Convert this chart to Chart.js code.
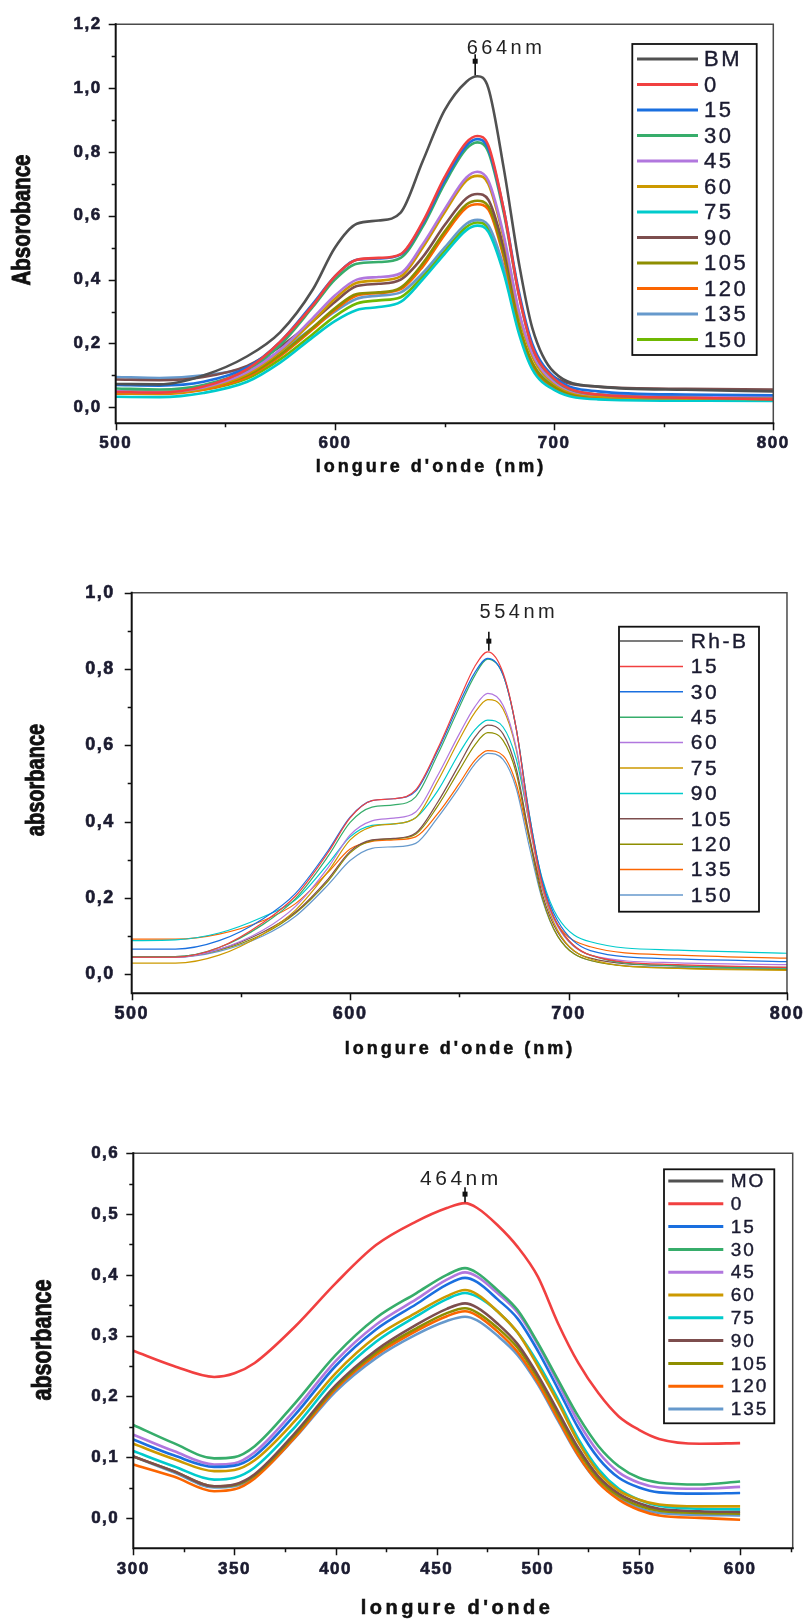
<!DOCTYPE html>
<html>
<head>
<meta charset="utf-8">
<script src="https://cdn.jsdelivr.net/npm/chart.js@4.4.0/dist/chart.umd.min.js"></script>
<style>
  body { margin: 0; background: #fff; width: 812px; height: 1620px; position: relative; overflow: hidden; }
  canvas { position: absolute; left: 0; }
</style>
</head>
<body>
<canvas id="c1" width="812" height="490" style="top:0px"></canvas>
<canvas id="c2" width="812" height="520" style="top:545px"></canvas>
<canvas id="c3" width="812" height="510" style="top:1110px"></canvas>
<script>
// ---------- Chart 1 : BM (absorbance vs longueur d'onde) ----------
const wl1 = [500, 520, 540, 560, 575, 590, 600, 610, 620, 630, 640, 650, 660, 665, 670, 677, 684, 690, 700, 720, 760, 800];
const names1 = ['BM', '0', '15', '30', '45', '60', '75', '90', '105', '120', '135', '150'];
const bm_BM  = [0.073, 0.072, 0.10, 0.16, 0.235, 0.37, 0.50, 0.575, 0.585, 0.61, 0.77, 0.93, 1.02, 1.037, 1.00, 0.75, 0.45, 0.25, 0.11, 0.065, 0.055, 0.05];
const bm_0   = [0.048, 0.046, 0.065, 0.12, 0.205, 0.32, 0.41, 0.462, 0.468, 0.48, 0.58, 0.72, 0.83, 0.85, 0.82, 0.62, 0.35, 0.19, 0.09, 0.04, 0.03, 0.025];
const bm_15  = [0.07, 0.068, 0.08, 0.125, 0.205, 0.325, 0.41, 0.462, 0.466, 0.478, 0.575, 0.71, 0.82, 0.84, 0.81, 0.62, 0.36, 0.20, 0.095, 0.05, 0.04, 0.038];
const bm_30  = [0.059, 0.056, 0.07, 0.118, 0.195, 0.315, 0.40, 0.45, 0.455, 0.468, 0.565, 0.70, 0.81, 0.83, 0.80, 0.61, 0.35, 0.19, 0.088, 0.04, 0.03, 0.025];
const bm_45  = [0.05, 0.048, 0.062, 0.11, 0.18, 0.28, 0.35, 0.40, 0.408, 0.42, 0.51, 0.62, 0.72, 0.738, 0.71, 0.54, 0.30, 0.17, 0.08, 0.04, 0.036, 0.035];
const bm_60  = [0.045, 0.044, 0.058, 0.105, 0.175, 0.27, 0.34, 0.39, 0.397, 0.41, 0.50, 0.61, 0.71, 0.725, 0.70, 0.53, 0.29, 0.16, 0.075, 0.035, 0.028, 0.025];
const bm_75  = [0.033, 0.032, 0.045, 0.08, 0.14, 0.22, 0.27, 0.305, 0.314, 0.33, 0.40, 0.48, 0.555, 0.569, 0.55, 0.42, 0.23, 0.12, 0.055, 0.025, 0.021, 0.02];
const bm_90  = [0.087, 0.085, 0.095, 0.13, 0.19, 0.27, 0.33, 0.38, 0.387, 0.40, 0.47, 0.57, 0.655, 0.668, 0.65, 0.50, 0.29, 0.17, 0.095, 0.065, 0.058, 0.056];
const bm_105 = [0.05, 0.048, 0.06, 0.10, 0.165, 0.25, 0.31, 0.355, 0.36, 0.375, 0.45, 0.55, 0.635, 0.647, 0.63, 0.48, 0.26, 0.14, 0.065, 0.035, 0.03, 0.03];
const bm_120 = [0.043, 0.042, 0.055, 0.095, 0.16, 0.245, 0.305, 0.35, 0.358, 0.37, 0.44, 0.54, 0.625, 0.636, 0.62, 0.47, 0.25, 0.135, 0.06, 0.03, 0.024, 0.021];
const bm_135 = [0.095, 0.092, 0.10, 0.125, 0.175, 0.25, 0.30, 0.34, 0.35, 0.36, 0.42, 0.50, 0.575, 0.587, 0.57, 0.44, 0.25, 0.14, 0.07, 0.04, 0.032, 0.03];
const bm_150 = [0.05, 0.048, 0.055, 0.09, 0.15, 0.23, 0.285, 0.325, 0.335, 0.345, 0.41, 0.49, 0.565, 0.579, 0.56, 0.43, 0.24, 0.13, 0.06, 0.03, 0.027, 0.025];
const yTicks1 = [0, 0.2, 0.4, 0.6, 0.8, 1.0, 1.2];
const xTicks1 = [500, 600, 700, 800];

// ---------- Chart 2 : Rh-B ----------
const wl2 = [500, 520, 540, 560, 575, 590, 600, 610, 620, 630, 640, 650, 657, 663, 670, 676, 682, 688, 695, 710, 750, 800];
const names2 = ['Rh-B', '15', '30', '45', '60', '75', '90', '105', '120', '135', '150'];
const rh_RhB = []; // courbe Rh-B non visible sur la figure
const rh_15  = [0.045, 0.045, 0.07, 0.135, 0.205, 0.32, 0.41, 0.455, 0.46, 0.483, 0.59, 0.72, 0.806, 0.845, 0.79, 0.645, 0.41, 0.235, 0.13, 0.05, 0.025, 0.018];
const rh_30  = [0.066, 0.066, 0.088, 0.145, 0.212, 0.325, 0.412, 0.455, 0.46, 0.48, 0.585, 0.71, 0.79, 0.828, 0.785, 0.645, 0.42, 0.245, 0.14, 0.062, 0.04, 0.033];
const rh_45  = [0.046, 0.046, 0.07, 0.13, 0.198, 0.31, 0.398, 0.438, 0.444, 0.465, 0.575, 0.70, 0.782, 0.826, 0.785, 0.645, 0.42, 0.24, 0.13, 0.05, 0.022, 0.016];
const rh_60  = [0.045, 0.044, 0.065, 0.115, 0.178, 0.28, 0.365, 0.402, 0.409, 0.425, 0.52, 0.63, 0.70, 0.736, 0.705, 0.595, 0.40, 0.23, 0.125, 0.05, 0.03, 0.025];
const rh_75  = [0.029, 0.029, 0.05, 0.105, 0.168, 0.27, 0.352, 0.387, 0.394, 0.41, 0.505, 0.615, 0.685, 0.72, 0.695, 0.59, 0.395, 0.225, 0.115, 0.04, 0.015, 0.01];
const rh_90  = [0.088, 0.09, 0.108, 0.15, 0.195, 0.29, 0.36, 0.39, 0.394, 0.41, 0.48, 0.58, 0.64, 0.666, 0.648, 0.565, 0.40, 0.25, 0.15, 0.085, 0.063, 0.055];
const rh_105 = [0.046, 0.046, 0.065, 0.11, 0.163, 0.25, 0.322, 0.352, 0.356, 0.37, 0.45, 0.55, 0.62, 0.653, 0.63, 0.54, 0.365, 0.21, 0.11, 0.042, 0.022, 0.018];
const rh_120 = [0.046, 0.045, 0.063, 0.105, 0.16, 0.245, 0.318, 0.35, 0.355, 0.367, 0.44, 0.535, 0.60, 0.633, 0.613, 0.528, 0.355, 0.20, 0.10, 0.036, 0.016, 0.012];
const rh_135 = [0.092, 0.092, 0.105, 0.14, 0.185, 0.268, 0.328, 0.348, 0.352, 0.36, 0.42, 0.50, 0.56, 0.586, 0.573, 0.50, 0.355, 0.225, 0.13, 0.072, 0.05, 0.042];
const rh_150 = [0.045, 0.045, 0.06, 0.10, 0.152, 0.235, 0.298, 0.33, 0.334, 0.343, 0.41, 0.49, 0.55, 0.579, 0.563, 0.488, 0.335, 0.195, 0.10, 0.036, 0.018, 0.014];
const yTicks2 = [0, 0.2, 0.4, 0.6, 0.8, 1.0];
const xTicks2 = [500, 600, 700, 800];

// ---------- Chart 3 : MO ----------
const wl3 = [300, 320, 340, 350, 360, 380, 400, 420, 440, 455, 464, 470, 480, 490, 500, 510, 520, 530, 540, 550, 560, 580, 600];
const names3 = ['MO', '0', '15', '30', '45', '60', '75', '90', '105', '120', '135'];
const mo_MO  = []; // courbe MO non visible sur la figure
const mo_0   = [0.275, 0.25, 0.232, 0.238, 0.255, 0.315, 0.386, 0.449, 0.488, 0.51, 0.518, 0.51, 0.482, 0.446, 0.397, 0.32, 0.255, 0.205, 0.167, 0.145, 0.13, 0.122, 0.123];
const mo_15  = [0.129, 0.103, 0.084, 0.086, 0.102, 0.17, 0.25, 0.31, 0.352, 0.384, 0.395, 0.388, 0.36, 0.328, 0.275, 0.212, 0.148, 0.098, 0.066, 0.05, 0.042, 0.04, 0.041];
const mo_30  = [0.153, 0.123, 0.098, 0.10, 0.118, 0.189, 0.268, 0.329, 0.37, 0.40, 0.411, 0.403, 0.375, 0.342, 0.288, 0.227, 0.167, 0.118, 0.085, 0.066, 0.058, 0.055, 0.06];
const mo_45  = [0.137, 0.11, 0.088, 0.09, 0.108, 0.178, 0.258, 0.318, 0.36, 0.392, 0.404, 0.397, 0.37, 0.338, 0.285, 0.222, 0.158, 0.108, 0.075, 0.058, 0.05, 0.048, 0.051];
const mo_60  = [0.122, 0.097, 0.077, 0.079, 0.095, 0.16, 0.238, 0.298, 0.338, 0.365, 0.375, 0.368, 0.34, 0.305, 0.25, 0.19, 0.125, 0.075, 0.045, 0.03, 0.022, 0.019, 0.019];
const mo_75  = [0.11, 0.085, 0.063, 0.066, 0.083, 0.15, 0.23, 0.29, 0.332, 0.36, 0.37, 0.364, 0.34, 0.305, 0.255, 0.195, 0.13, 0.08, 0.048, 0.03, 0.02, 0.015, 0.014];
const mo_90  = [0.101, 0.077, 0.052, 0.055, 0.072, 0.14, 0.218, 0.276, 0.318, 0.344, 0.353, 0.346, 0.32, 0.286, 0.235, 0.175, 0.115, 0.068, 0.04, 0.024, 0.015, 0.011, 0.01];
const mo_105 = [0.101, 0.077, 0.052, 0.054, 0.07, 0.137, 0.215, 0.272, 0.312, 0.337, 0.345, 0.338, 0.313, 0.28, 0.23, 0.17, 0.11, 0.064, 0.036, 0.02, 0.012, 0.008, 0.007];
const mo_120 = [0.088, 0.068, 0.044, 0.047, 0.065, 0.133, 0.212, 0.268, 0.308, 0.332, 0.34, 0.333, 0.307, 0.273, 0.223, 0.163, 0.103, 0.058, 0.03, 0.013, 0.004, 0.0, -0.003];
const mo_135 = [0.101, 0.075, 0.05, 0.052, 0.067, 0.132, 0.208, 0.263, 0.302, 0.324, 0.331, 0.325, 0.30, 0.268, 0.22, 0.16, 0.102, 0.058, 0.032, 0.016, 0.008, 0.005, 0.004];
const yTicks3 = [0, 0.1, 0.2, 0.3, 0.4, 0.5, 0.6];
const xTicks3 = [300, 350, 400, 450, 500, 550, 600];

// Origin default colour order
const seriesColors = ['#515151', '#F14040', '#1A6FDF', '#37AD6B', '#B177DE', '#CC9900',
                      '#00CBCC', '#7D4E4E', '#8E8E00', '#FB6501', '#6699CC', '#6FB802'];

const tickFamily = "'Liberation Sans', Arial, sans-serif";
const textColor = '#1b1b30';

function isMultiple(v, step) {
  const r = v / step;
  return Math.abs(r - Math.round(r)) < 1e-6;
}

// draws the Origin-like frame, minor ticks, legend box, peak marker and axis titles
function originPlugin(c) {
  return {
    id: 'origin',
    beforeDraw(chart) {
      chart.ctx.letterSpacing = c.tickSpacing;
    },
    afterDatasetsDraw(chart) {
      const ctx = chart.ctx;
      const a = chart.chartArea;
      const xs = chart.scales.x, ys = chart.scales.y;
      ctx.save();
      ctx.letterSpacing = '0px';

      // frame
      ctx.lineCap = 'square';
      ctx.strokeStyle = '#4a4a4a';
      ctx.lineWidth = 1.5;
      ctx.beginPath();
      ctx.moveTo(a.left, a.top); ctx.lineTo(a.right, a.top); ctx.lineTo(a.right, a.bottom);
      ctx.stroke();
      ctx.strokeStyle = '#111';
      ctx.lineWidth = 2;
      ctx.beginPath();
      ctx.moveTo(a.left, a.top); ctx.lineTo(a.left, a.bottom); ctx.lineTo(a.right, a.bottom);
      ctx.stroke();

      // tick marks (major + minor), outside
      ctx.lineCap = 'butt';
      ctx.lineWidth = 1.5;
      ctx.beginPath();
      for (let v = c.yTicks[0]; v <= c.yMax + 1e-9; v += c.yMinor) {
        const py = Math.round(ys.getPixelForValue(v)) + 0.5;
        const len = isMultiple(v, c.yMajor) ? 7 : 4;
        ctx.moveTo(a.left, py); ctx.lineTo(a.left - len, py);
      }
      for (let v = c.xMin; v <= c.xMax + 1e-9; v += c.xMinor) {
        const px = Math.round(xs.getPixelForValue(v)) + 0.5;
        const len = isMultiple(v, c.xMajor) ? 7 : 4;
        ctx.moveTo(px, a.bottom); ctx.lineTo(px, a.bottom + len);
      }
      ctx.stroke();

      // legend box
      const L = c.legend;
      ctx.fillStyle = '#fff';
      ctx.fillRect(L.x, L.y, L.w, L.h);
      ctx.strokeStyle = '#111';
      ctx.lineWidth = 1.8;
      ctx.strokeRect(L.x, L.y, L.w, L.h);
      ctx.font = L.font;
      ctx.letterSpacing = L.spacing;
      ctx.textBaseline = 'middle';
      ctx.textAlign = 'left';
      chart.data.datasets.forEach((d, i) => {
        const yy = L.first + i * L.row;
        ctx.strokeStyle = d.borderColor;
        ctx.lineWidth = L.lineW;
        ctx.beginPath();
        ctx.moveTo(L.lx0, yy); ctx.lineTo(L.lx1, yy);
        ctx.stroke();
        ctx.fillStyle = textColor;
        ctx.fillText(d.label, L.tx, yy + 1);
        ctx.strokeStyle = textColor;
        ctx.lineWidth = 0.4;
        ctx.strokeText(d.label, L.tx, yy + 1);
      });

      // peak marker
      const P = c.peak;
      let top = -Infinity;
      chart.data.datasets.forEach(d => d.data.forEach(p => { if (p.y > top) top = p.y; }));
      const px = xs.getPixelForValue(P.nm);
      const py = ys.getPixelForValue(top);
      ctx.strokeStyle = '#111';
      ctx.lineWidth = 1.6;
      ctx.beginPath();
      ctx.moveTo(px, py - 1); ctx.lineTo(px, py - P.len);
      ctx.stroke();
      ctx.fillStyle = '#111';
      ctx.fillRect(px - 2.5, py - P.sq - 2.5, 5, 5);
      ctx.font = P.font;
      ctx.letterSpacing = P.spacing;
      ctx.fillStyle = '#222';
      ctx.fillText(P.text, px + P.tx, py - P.ty);

      // axis titles (y title condensed like Arial Narrow, heavy)
      const T = c.titles;
      ctx.fillStyle = '#111';
      ctx.strokeStyle = '#111';
      ctx.lineWidth = 0.9;
      ctx.textAlign = 'center';
      ctx.font = T.yFont;
      ctx.letterSpacing = '0px';
      ctx.save();
      ctx.translate(T.yx, T.yy);
      ctx.rotate(-Math.PI / 2);
      ctx.scale(T.yCond, 1);
      ctx.fillText(T.y, 0, 0);
      ctx.strokeText(T.y, 0, 0);
      ctx.restore();
      ctx.font = T.xFont;
      ctx.letterSpacing = T.xSpacing;
      ctx.lineWidth = 0.5;
      ctx.fillText(T.x, T.xx, T.xy);
      ctx.strokeText(T.x, T.xx, T.xy);
      ctx.restore();
    }
  };
}

function makeChart(id, c) {
  const datasets = c.series.map((s, i) => ({
    label: c.names[i],
    data: s.map((y, j) => ({ x: c.wl[j], y: y })),
    borderColor: seriesColors[i],
    backgroundColor: seriesColors[i],
    borderWidth: c.lineWidth,
    pointRadius: 0,
    fill: false,
    cubicInterpolationMode: 'monotone'
  }));

  new Chart(document.getElementById(id), {
    type: 'line',
    data: { datasets: datasets },
    options: {
      responsive: false,
      animation: false,
      devicePixelRatio: 1,
      layout: { padding: { top: c.padTop, right: c.padRight, left: 0, bottom: 0 } },
      plugins: { legend: { display: false }, tooltip: { enabled: false } },
      scales: {
        x: {
          type: 'linear', min: c.xMin, max: c.xMax,
          afterBuildTicks: s => { s.ticks = c.xTicks.map(v => ({ value: v })); },
          afterFit: s => { s.height = c.xAxisH; },
          grid: { display: false, drawTicks: false },
          border: { display: false },
          ticks: {
            padding: c.xTickPad, color: textColor, autoSkip: false, maxRotation: 0,
            textStrokeColor: textColor, textStrokeWidth: 0.6,
            font: { family: tickFamily, weight: 'bold', size: c.tickSize },
            callback: v => String(v)
          }
        },
        y: {
          type: 'linear', min: c.yMin, max: c.yMax,
          afterBuildTicks: s => { s.ticks = c.yTicks.map(v => ({ value: v })); },
          afterFit: s => { s.width = c.yAxisW; },
          grid: { display: false, drawTicks: false },
          border: { display: false },
          ticks: {
            padding: c.yTickPad, color: textColor,
            textStrokeColor: textColor, textStrokeWidth: 0.6,
            font: { family: tickFamily, weight: 'bold', size: c.tickSize },
            callback: v => v.toFixed(1).replace('.', ',')
          }
        }
      }
    },
    plugins: [originPlugin(c)]
  });
}

// Chart 1
makeChart('c1', {
  wl: wl1, names: names1,
  series: [bm_BM, bm_0, bm_15, bm_30, bm_45, bm_60, bm_75, bm_90, bm_105, bm_120, bm_135, bm_150],
  lineWidth: 2.6,
  xMin: 500, xMax: 800, xMajor: 100, xMinor: 50, xTicks: xTicks1,
  yMin: -0.05, yMax: 1.2, yMajor: 0.2, yMinor: 0.1, yTicks: yTicks1,
  padTop: 22.7, padRight: 38.7, yAxisW: 115.7, xAxisH: 66.7,
  tickSize: 17, tickSpacing: '1.5px', xTickPad: 10, yTickPad: 14,
  legend: { x: 632.3, y: 44, w: 124.4, h: 311, first: 59, row: 25.5, lx0: 637, lx1: 698, tx: 704,
            lineW: 3, font: "22px " + tickFamily, spacing: '2.5px' },
  peak: { nm: 664, text: '664nm', len: 22, sq: 15, tx: -8.5, ty: 28, font: "20px " + tickFamily, spacing: '3.5px' },
  titles: { y: 'Absorobance', yx: 23, yy: 220, yFont: "bold 25px " + tickFamily, yCond: 0.82,
            x: "longure d'onde (nm)", xx: 431, xy: 467, xFont: "bold 18px " + tickFamily, xSpacing: '3px' }
});

// Chart 2
makeChart('c2', {
  wl: wl2, names: names2,
  series: [rh_RhB, rh_15, rh_30, rh_45, rh_60, rh_75, rh_90, rh_105, rh_120, rh_135, rh_150],
  lineWidth: 1.2,
  xMin: 500, xMax: 800, xMajor: 100, xMinor: 50, xTicks: xTicks2,
  yMin: -0.05, yMax: 1.0, yMajor: 0.2, yMinor: 0.1, yTicks: yTicks2,
  padTop: 47.7, padRight: 22, yAxisW: 131.7, xAxisH: 71.7,
  tickSize: 18, tickSpacing: '1.5px', xTickPad: 10, yTickPad: 17,
  legend: { x: 619, y: 81.7, w: 140, h: 285, first: 96, row: 25.4, lx0: 620, lx1: 683, tx: 690.7,
            lineW: 1.5, font: "21px " + tickFamily, spacing: '2.5px' },
  peak: { nm: 663.5, text: '554nm', len: 20, sq: 10.7, tx: -9.3, ty: 39, font: "20px " + tickFamily, spacing: '3.5px' },
  titles: { y: 'absorbance', yx: 37.5, yy: 235, yFont: "bold 25px " + tickFamily, yCond: 0.8,
            x: "longure d'onde (nm)", xx: 460, xy: 504, xFont: "bold 18px " + tickFamily, xSpacing: '3px' }
});

// Chart 3
makeChart('c3', {
  wl: wl3, names: names3,
  series: [mo_MO, mo_0, mo_15, mo_30, mo_45, mo_60, mo_75, mo_90, mo_105, mo_120, mo_135],
  lineWidth: 2.6,
  xMin: 300, xMax: 626, xMajor: 50, xMinor: 25, xTicks: xTicks3,
  yMin: -0.05, yMax: 0.6, yMajor: 0.1, yMinor: 0.05, yTicks: yTicks3,
  padTop: 43.3, padRight: 19.3, yAxisW: 133.3, xAxisH: 71.7,
  tickSize: 17, tickSpacing: '1.5px', xTickPad: 11, yTickPad: 14,
  legend: { x: 664, y: 59.3, w: 110.3, h: 254, first: 71, row: 22.8, lx0: 668.3, lx1: 723.3, tx: 730.7,
            lineW: 3, font: "19px " + tickFamily, spacing: '2px' },
  peak: { nm: 464, text: '464nm', len: 16, sq: 9, tx: -45, ty: 23.5, font: "21px " + tickFamily, spacing: '3.5px' },
  titles: { y: 'absorbance', yx: 44, yy: 230, yFont: "bold 27px " + tickFamily, yCond: 0.8,
            x: "longure d'onde", xx: 457, xy: 498, xFont: "bold 20px " + tickFamily, xSpacing: '3.5px' }
});
</script>
</body>
</html>
